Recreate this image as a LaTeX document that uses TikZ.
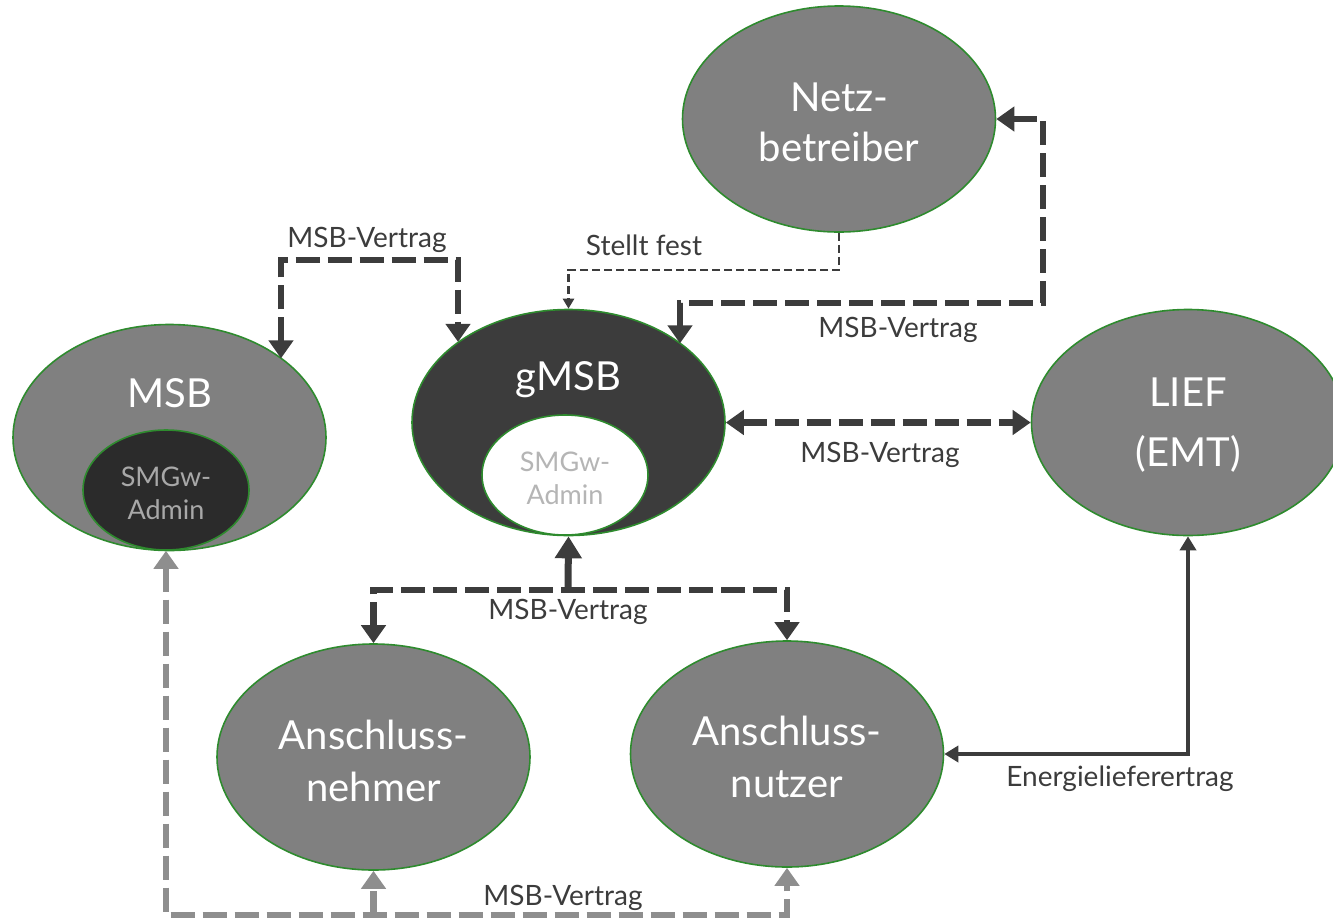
\documentclass[tikz,border=0pt]{standalone}
\usepackage{fontspec}
\setmainfont{Lato}
\usetikzlibrary{shapes.geometric,arrows.meta}
\definecolor{nodegray}{HTML}{808080}
\definecolor{dark}{HTML}{3C3C3C}
\definecolor{darker}{HTML}{2B2B2B}
\definecolor{edgegreen}{HTML}{2E8B2E}
\definecolor{admintext}{HTML}{A8A8A8}
\definecolor{lightarrow}{HTML}{8E8E8E}
\begin{document}
\begin{tikzpicture}[x=1pt,y=-1pt,
 party/.style={ellipse, draw=edgegreen, line width=1.6pt, fill=nodegray, inner sep=0pt, minimum width=313pt, minimum height=226pt},
 bigtext/.style={text=white, font=\fontsize{40}{50}\selectfont, align=center, inner sep=0pt},
 admin/.style={ellipse, draw=edgegreen, line width=1.6pt, inner sep=0pt, minimum width=166pt, minimum height=120pt},
 admintxt/.style={text=admintext, font=\fontsize{27}{33}\selectfont, align=center, inner sep=0pt},
 lbl/.style={text=dark, font=\fontsize{28}{32}\selectfont, inner sep=0pt},
 thickdash/.style={draw=dark, line width=6.5pt, dash pattern=on 24pt off 8pt},
 thindash/.style={draw=dark, line width=2.8pt, dash pattern=on 8pt off 4pt},
 graydash/.style={draw=lightarrow, line width=6.5pt, dash pattern=on 24pt off 8pt},
 bothtips/.style={arrows={Triangle[length=18pt,width=24pt]-Triangle[length=18pt,width=24pt]}},
 endtip/.style={arrows={-Triangle[length=18pt,width=24pt]}},
 smalltip/.style={arrows={-Triangle[length=10pt,width=11pt]}},
 midtips/.style={arrows={Triangle[length=14pt,width=16pt]-Triangle[length=14pt,width=16pt]}}
]
\useasboundingbox (0,0) rectangle (1333,922);
\clip (0,0) rectangle (1333,922);

% nodes
\node[party] (netz) at (839,119) {};
\node[bigtext] (netzt) at (839,122) {Netz-\\betreiber};

\node[party] (msb) at (169.5,437.5) {};
\node[bigtext] (msbt) at (169.5,393) {MSB};
\node[admin, fill=darker] (msbadm) at (166,490) {};
\node[admintxt] (msbadmt) at (166,493) {SMGw-\\Admin};

\node[party, fill=dark] (gmsb) at (568.5,422.5) {};
\node[bigtext] (gmsbt) at (568.5,380) {gMSB};
\node[admin, fill=white] (gmsbadm) at (565,475) {};
\node[admintxt, text=admintext!85!white] (gmsbadmt) at (565,478) {SMGw-\\Admin};

\node[party] (lief) at (1188,422.5) {};
\node[bigtext, font=\fontsize{40}{60}\selectfont] (lieft) at (1188,425) {LIEF\\(EMT)};

\node[party] (anehmer) at (373.5,757) {};
\node[bigtext, font=\fontsize{40}{52}\selectfont] (anehmert) at (373.5,761) {Anschluss-\\nehmer};

\node[party] (anutzer) at (787,754) {};
\node[bigtext, font=\fontsize{40}{52}\selectfont] (anutzert) at (787,757) {Anschluss-\\nutzer};

% helper coordinates
\coordinate (a1) at (281,260);
\coordinate (a2) at (458,260);
\coordinate (b1) at (839,270);
\coordinate (c1) at (1043,303);
\coordinate (c2) at (680,303);
\coordinate (d) at (568,590);
\coordinate (e) at (168,915);

% MSB <-> gMSB
\draw[thickdash, bothtips] (a1 |- msb.35.3) -- (a1) -- (a2) -- (a2 |- gmsb.144.2);
\node[lbl] (l1) at (367,240) {MSB-Vertrag};

% Stellt fest
\draw[thindash, smalltip] (netz.south) -- (netz.south |- b1) -- (gmsb.north |- b1) -- (gmsb.north);
\node[lbl] (l2) at (644,245) {Stellt fest};

% Netz <-> gMSB
\draw[thickdash, bothtips] (netz.east) -- (netz.east -| c1) -- (c1) -- (c2) -- (c2 |- gmsb.35.3);
\node[lbl] (l3) at (898,330) {MSB-Vertrag};

% gMSB <-> LIEF
\draw[thickdash, bothtips] (gmsb.east) -- (lief.west);
\node[lbl] (l4) at (880,455) {MSB-Vertrag};

% gMSB <-> Anschluss
\draw[thickdash, bothtips] (anehmer.north) -- (anehmer.north |- d) -- (anutzer.north |- d) -- (anutzer.north);
\draw[draw=dark, line width=7pt, arrows={-Triangle[length=22pt,width=26pt]}] (d) -- (gmsb.south);
\node[lbl] (l5) at (568,612) {MSB-Vertrag};

% Energieliefervertrag
\draw[draw=dark, line width=4pt, midtips] (anutzer.east) -- (anutzer.east -| lief.south) -- (lief.south);
\node[lbl] (l6) at (1120,779) {Energielieferertrag};

% gray MSB-Vertrag
\draw[graydash, bothtips] (msbadm.south) -- (msbadm.south |- e) -- (anutzer.south |- e) -- (anutzer.south);
\draw[graydash, endtip] (anehmer.south |- e) -- (anehmer.south);
\node[lbl] (l7) at (563,898) {MSB-Vertrag};
\end{tikzpicture}
\end{document}
